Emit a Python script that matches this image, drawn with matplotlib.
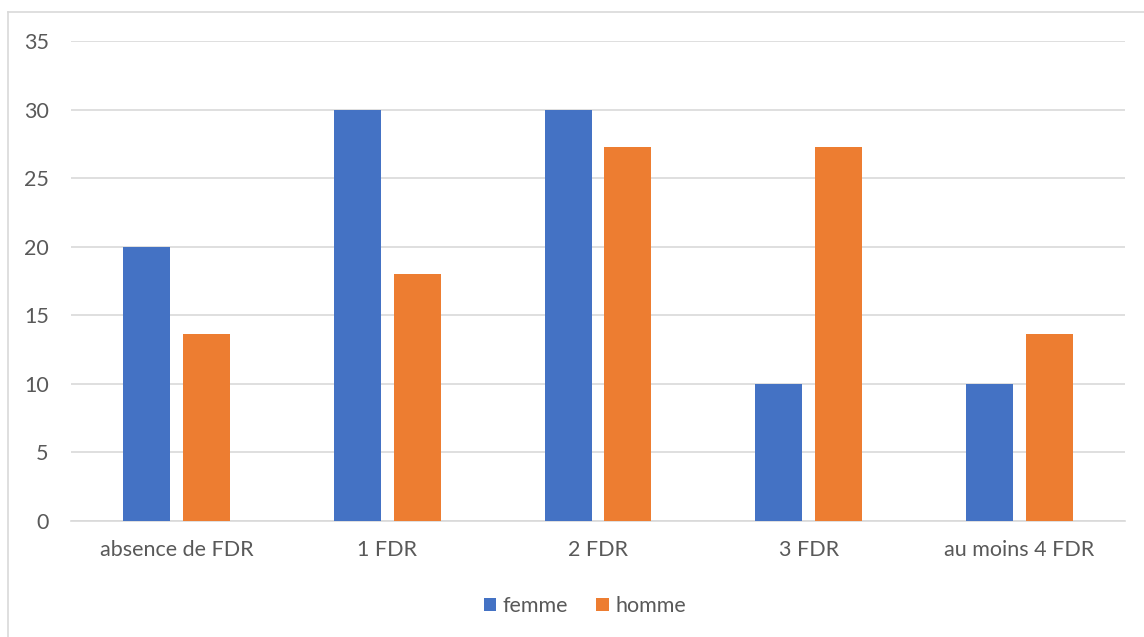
import matplotlib
matplotlib.use('Agg')
import matplotlib.pyplot as plt
import numpy as np
from matplotlib.lines import Line2D

# data
categories = ['absence de FDR', '1 FDR', '2 FDR', '3 FDR', 'au moins 4 FDR']
femme = [20, 30, 30, 10, 10]
homme = [13.64, 18, 27.27, 27.27, 13.64]
yticks = [0, 5, 10, 15, 20, 25, 30, 35]

text_col = '#595959'
grid_col = '#d9d9d9'
plt.rcParams['font.family'] = ['Lato', 'DejaVu Sans']

fig = plt.figure(figsize=(11.44, 6.37), dpi=100)
ax = fig.add_axes([71/1144, 1 - 521/637, (1125-71)/1144, 480/637])

x = np.arange(len(categories))
w = 0.223
off = 0.142
ax.bar(x - off, femme, w, color='#4472c4', label='femme', zorder=3)
ax.bar(x + off, homme, w, color='#ed7d31', label='homme', zorder=3)

ax.set_xlim(-0.5, len(categories) - 0.5)
ax.set_ylim(0, 35)
ax.set_yticks(yticks)
ax.set_xticks(x)
ax.set_xticklabels(categories)
ax.tick_params(axis='both', length=0, labelsize=15.5, colors=text_col)
ax.tick_params(axis='y', pad=16)
ax.tick_params(axis='x', pad=14)
ax.grid(axis='y', color=grid_col, linewidth=1.2, zorder=0)
for s in ['top', 'right', 'left']:
    ax.spines[s].set_visible(False)
ax.spines['bottom'].set_color(grid_col)
ax.spines['bottom'].set_linewidth(1.2)

leg = fig.legend(loc='center', bbox_to_anchor=(585/1144, 1 - 606/637), ncol=2,
                 frameon=False, fontsize=15.5, handlelength=0.6, handleheight=0.6,
                 handletextpad=0.3, columnspacing=1.3)
for t in leg.get_texts():
    t.set_color(text_col)

# outer chart frame
fig.add_artist(Line2D([7.5/1144, 7.5/1144], [0, 1 - 11.5/637], color=grid_col, lw=1.2))
fig.add_artist(Line2D([7.5/1144, 1], [1 - 11.5/637, 1 - 11.5/637], color=grid_col, lw=1.2))

fig.savefig('out.png', dpi=100)
